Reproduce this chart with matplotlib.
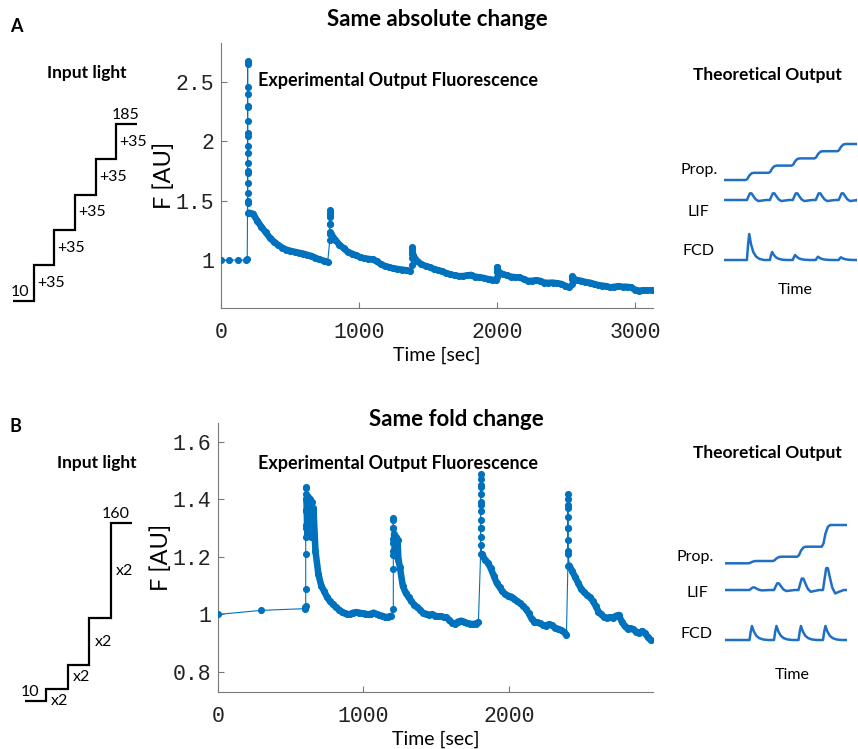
import numpy as np
import matplotlib
matplotlib.use("Agg")
import matplotlib.pyplot as plt
from matplotlib.ticker import FormatStrFormatter

plt.rcParams["font.family"] = ["Lato", "DejaVu Sans"]

W, H = 858, 749
BLUE = "#0072BD"
THEORY_BLUE = "#1f6fc5"
MONO = "Liberation Mono"

# ---------------- panel A: same absolute change ----------------
a_light = [10, 45, 80, 115, 150, 185]

a_base_t = [0, 60, 120, 180, 190]
a_base_f = [1.0, 1.0, 1.0, 1.0, 1.01]
a_jump_t = [193, 788, 1382, 2002, 2540]
a_jump_f = [
    [1.48, 1.565, 1.65, 1.73, 1.82, 1.90, 1.96, 2.07, 2.17, 2.29, 2.30, 2.455,
     2.65, 2.68, 2.66, 2.40, 2.05, 1.75, 1.50, 1.40],
    [1.17, 1.22, 1.30, 1.36, 1.40, 1.42, 1.38, 1.30, 1.24],
    [0.96, 1.02, 1.07, 1.10, 1.107, 1.09, 1.05],
    [0.86, 0.90, 0.93, 0.945, 0.94, 0.91],
    [0.80, 0.84, 0.865, 0.86, 0.845],
]
a_decay_t0 = [203, 798, 1392, 2012, 2550]
a_decay_dt = 30
a_decay_f = [
    [1.40, 1.39, 1.33, 1.28, 1.235, 1.19, 1.155, 1.128, 1.105, 1.088, 1.078,
     1.07, 1.062, 1.055, 1.045, 1.035, 1.02, 1.005, 0.995, 0.985],
    [1.22, 1.17, 1.13, 1.10, 1.07, 1.055, 1.04, 1.025, 1.015, 1.01, 1.005,
     0.99, 0.965, 0.95, 0.94, 0.93, 0.925, 0.92, 0.915, 0.91],
    [1.04, 0.99, 0.965, 0.95, 0.94, 0.925, 0.915, 0.905, 0.89, 0.88, 0.87,
     0.865, 0.865, 0.87, 0.875, 0.86, 0.855, 0.85, 0.84, 0.835, 0.83],
    [0.90, 0.88, 0.87, 0.86, 0.855, 0.855, 0.84, 0.825, 0.825, 0.83, 0.825,
     0.81, 0.808, 0.81, 0.805, 0.80, 0.785, 0.77],
    [0.845, 0.83, 0.825, 0.815, 0.81, 0.80, 0.79, 0.785, 0.78, 0.77, 0.775,
     0.78, 0.775, 0.775, 0.77, 0.75, 0.742, 0.745, 0.745, 0.745],
]

# ---------------- panel B: same fold change ----------------
b_light = [10, 20, 40, 80, 160]

b_base_t = [0, 297, 595, 600]
b_base_f = [1.0, 1.014, 1.02, 1.025]
b_jump_t = [603, 1205, 1805, 2405]
b_jump_f = [
    [1.03, 1.09, 1.21, 1.31, 1.365, 1.40, 1.44, 1.445, 1.42, 1.36, 1.30, 1.27],
    [1.02, 1.157, 1.205, 1.263, 1.30, 1.33, 1.335, 1.30, 1.25, 1.22],
    [1.21, 1.27, 1.30, 1.33, 1.36, 1.39, 1.42, 1.445, 1.47, 1.49, 1.45, 1.38,
     1.30, 1.24],
    [1.17, 1.21, 1.26, 1.30, 1.34, 1.37, 1.40, 1.42, 1.38, 1.30, 1.22],
]
b_blob_dt = 6
b_blob_f = [
    [1.40, 1.28, 1.41, 1.30, 1.40, 1.27, 1.39, 1.29, 1.37],
    [1.28, 1.22, 1.27, 1.20, 1.26, 1.19],
    [],
    [],
]
b_decay_t0 = [670, 1250, 1815, 2415]
b_decay_dt = 20
b_decay_f = [
    [1.22, 1.14, 1.10, 1.08, 1.06, 1.045, 1.035, 1.025, 1.017, 1.01, 1.004,
     1.0, 1.002, 1.006, 1.008, 1.006, 1.004, 1.003, 1.0, 1.002, 1.006, 1.0,
     0.997, 0.995, 0.99, 0.992, 0.995],
    [1.165, 1.10, 1.075, 1.06, 1.045, 1.033, 1.025, 1.015, 1.005, 1.002,
     0.998, 1.0, 0.996, 0.993, 0.994, 0.99, 0.99, 0.98, 0.97, 0.968, 0.975,
     0.978, 0.975, 0.97, 0.968, 0.966, 0.968, 0.972],
    [1.21, 1.19, 1.18, 1.16, 1.135, 1.11, 1.095, 1.08, 1.07, 1.065, 1.062,
     1.055, 1.046, 1.04, 1.03, 1.02, 1.005, 0.985, 0.975, 0.972, 0.969, 0.962,
     0.96, 0.966, 0.962, 0.954, 0.95, 0.946, 0.94, 0.93],
    [1.17, 1.15, 1.13, 1.11, 1.09, 1.078, 1.068, 1.06, 1.048, 1.03, 1.01, 1.0,
     0.99, 0.988, 0.99, 0.988, 0.995, 0.998, 0.975, 0.96, 0.95, 0.952, 0.948,
     0.94, 0.934, 0.942, 0.935, 0.92, 0.91],
]

# ---------------- schematic theoretical outputs ----------------
lif_shape_dt = [-0.1, 0.0, 0.06, 0.13, 0.2, 0.28, 0.38, 0.5, 0.65, 0.85]
lif_shape_v = [0, 0, 0.45, 0.95, 0.95, 0.55, 0.1, -0.15, -0.08, 0]
fcd_shape_dt = [-0.1, 0.0, 0.05, 0.1, 0.18, 0.28, 0.4, 0.55, 0.75]
fcd_shape_v = [0, 0, 0.6, 1.0, 0.6, 0.3, 0.13, 0.04, 0]
prop_shape_dt = [-0.05, 0.02, 0.1, 0.2, 0.3]
prop_shape_v = [0, 0.15, 0.6, 0.92, 1.0]

a_prop_levels = [0, 7.2, 14.4, 21.6, 28.8, 36]
a_lif_heights = [7, 7, 7, 7, 7]
a_fcd_heights = [26, 8, 5, 3.3, 2.7]
a_offsets = [0, -20, -80]      # Prop, LIF, FCD baselines
a_t_end = 5.8

b_prop_levels = [0, 2.3, 6.6, 16.6, 38.3]
b_lif_heights = [2.7, 7, 12, 23]
b_fcd_heights = [14, 14, 14, 14]
b_offsets = [0, -26.7, -76.7]
b_t_end = 4.98


def px_axes(fig, x0, y0, x1, y1):
    return fig.add_axes([x0 / W, 1 - y1 / H, (x1 - x0) / W, (y1 - y0) / H])


def ftext(fig, x, y, s, **kw):
    kw.setdefault("ha", "center")
    kw.setdefault("va", "center")
    fig.text(x / W, 1 - y / H, s, **kw)


def trace(ax, base_t, base_f, jump_t, jump_f, dec_t0, dec_dt, dec_f,
          blob_f=None, blob_dt=0):
    t_all, f_all = list(base_t), list(base_f)
    for k in range(len(jump_t)):
        t_all += [jump_t[k]] * len(jump_f[k])
        f_all += jump_f[k]
        seg_t, seg_f = [], []
        if blob_f is not None and blob_f[k]:
            seg_t += list(jump_t[k] + 5 + blob_dt * np.arange(len(blob_f[k])))
            seg_f += blob_f[k]
        seg_t += list(dec_t0[k] + dec_dt * np.arange(len(dec_f[k])))
        seg_f += dec_f[k]
        t_all += seg_t
        f_all += seg_f
        ax.plot(seg_t, seg_f, color=BLUE, lw=4.7, solid_capstyle="round",
                solid_joinstyle="round", zorder=2)
    ax.plot(t_all, f_all, color=BLUE, lw=0.8, marker="o", ms=4.1,
            mec=BLUE, mfc=BLUE, zorder=3)


def style_main(ax, xlim, ylim, xticks, yticks):
    ax.set_xlim(*xlim)
    ax.set_ylim(*ylim)
    ax.set_xticks(xticks)
    ax.set_yticks(yticks)
    ax.yaxis.set_major_formatter(FormatStrFormatter("%g"))
    for s in ["top", "right"]:
        ax.spines[s].set_visible(False)
    for s in ["left", "bottom"]:
        ax.spines[s].set_color("#7a7a7a")
        ax.spines[s].set_linewidth(0.8)
    ax.tick_params(direction="in", length=4, width=0.8, color="#7a7a7a",
                   labelsize=15.5, labelcolor="#222222")
    ax.tick_params(axis="x", pad=10)
    ax.tick_params(axis="y", pad=5)
    for lab in ax.get_xticklabels() + ax.get_yticklabels():
        lab.set_family(MONO)


def staircase(ax, levels, kind):
    edges = np.arange(len(levels) + 1)
    ax.stairs(levels, edges, baseline=None, color="black", lw=1.6,
              clip_on=False)
    ax.set_xlim(0, len(levels))
    ax.set_ylim(levels[0], levels[-1])
    ax.axis("off")
    for k in range(1, len(levels)):
        if kind == "add":
            s = f"+{levels[k] - levels[k - 1]}"
            y = (levels[k] + levels[k - 1]) / 2
            x = k + 0.15
        else:
            s = f"x{levels[k] // levels[k - 1]}"
            y = (levels[k] + levels[k - 1]) / 2 if k > 1 else levels[0]
            x = k + 0.25 if k > 1 else k + 0.2
        ax.text(x, y, s, ha="left", va="center", fontsize=11.5)


def bump_curve(times, heights, dts, vs, t_end):
    tt, vv = [0.0], [0.0]
    for tk, h in zip(times, heights):
        tt += [tk + d for d in dts]
        vv += [h * v for v in vs]
    tt.append(t_end)
    vv.append(0.0)
    return tt, vv


def prop_curve(levels, t_end):
    tt, vv = [0.0], [levels[0]]
    for k in range(1, len(levels)):
        tt += [k + d for d in prop_shape_dt]
        vv += [levels[k - 1] + f * (levels[k] - levels[k - 1])
               for f in prop_shape_v]
    tt.append(t_end)
    vv.append(levels[-1])
    return tt, vv


def theory(ax, prop_levels, lif_h, fcd_h, offsets, t_end, ylim):
    steps = list(range(1, len(prop_levels)))
    pt, pv = prop_curve(prop_levels, t_end)
    lt, lv = bump_curve(steps, lif_h, lif_shape_dt, lif_shape_v, t_end)
    ct, cv = bump_curve(steps, fcd_h, fcd_shape_dt, fcd_shape_v, t_end)
    for (t, v), off in zip([(pt, pv), (lt, lv), (ct, cv)], offsets):
        ax.plot(t, [x + off for x in v], color=THEORY_BLUE, lw=1.8,
                solid_joinstyle="round")
    ax.set_xlim(0, t_end)
    ax.set_ylim(*ylim)
    ax.axis("off")


fig = plt.figure(figsize=(W / 100, H / 100), dpi=100)

# ---- A ----
ax = px_axes(fig, 221, 43, 653, 308)
trace(ax, a_base_t, a_base_f, a_jump_t, a_jump_f, a_decay_t0, a_decay_dt,
      a_decay_f)
style_main(ax, (0, 3130), (0.596, 2.83), [0, 1000, 2000, 3000],
           [1, 1.5, 2, 2.5])
ax.set_xlabel("Time [sec]", fontsize=14, labelpad=3)
ax.set_ylabel("F [AU]", fontsize=17, labelpad=0)
ax.text(0.085, 0.857, "Experimental Output Fluorescence", transform=ax.transAxes,
        fontsize=13, fontweight="bold", ha="left", va="center")

ax = px_axes(fig, 13, 124, 137, 300.7)
staircase(ax, a_light, "add")
ax.text(0.35, a_light[0] + 2, str(a_light[0]), ha="center", va="bottom",
        fontsize=11.5)
ax.text(5.45, a_light[-1] + 2, str(a_light[-1]), ha="center", va="bottom",
        fontsize=11.5)

ax = px_axes(fig, 724, 140, 857, 265)
theory(ax, a_prop_levels, a_lif_heights, a_fcd_heights, a_offsets, a_t_end,
       (-85, 40))

ftext(fig, 16, 27, "A", fontsize=13, fontweight="bold")
ftext(fig, 437, 20, "Same absolute change", fontsize=16, fontweight="bold")
ftext(fig, 87, 73, "Input light", fontsize=12.5, fontweight="bold")
ftext(fig, 767, 75, "Theoretical Output", fontsize=12.5, fontweight="bold")
ftext(fig, 681, 170, "Prop.", fontsize=11.5, ha="left")
ftext(fig, 698, 212, "LIF", fontsize=11.5)
ftext(fig, 698, 251, "FCD", fontsize=11.5)
ftext(fig, 795, 290, "Time", fontsize=11.5)

# ---- B ----
ax = px_axes(fig, 218, 423, 653, 692)
trace(ax, b_base_t, b_base_f, b_jump_t, b_jump_f, b_decay_t0, b_decay_dt,
      b_decay_f, b_blob_f, b_blob_dt)
style_main(ax, (0, 2990), (0.73, 1.666), [0, 1000, 2000],
           [0.8, 1, 1.2, 1.4, 1.6])
ax.set_xlabel("Time [sec]", fontsize=14, labelpad=3)
ax.set_ylabel("F [AU]", fontsize=17, labelpad=0)
ax.text(0.092, 0.85, "Experimental Output Fluorescence", transform=ax.transAxes,
        fontsize=13, fontweight="bold", ha="left", va="center")

ax = px_axes(fig, 25, 523.3, 132, 701)
staircase(ax, b_light, "mul")
ax.text(0.23, b_light[0] + 2, str(b_light[0]), ha="center", va="bottom",
        fontsize=11.5)
ax.text(4.25, b_light[-1] + 2, str(b_light[-1]), ha="center", va="bottom",
        fontsize=11.5)

ax = px_axes(fig, 725, 518.3, 847, 648.3)
theory(ax, b_prop_levels, b_lif_heights, b_fcd_heights, b_offsets, b_t_end,
       (-85, 45))

ftext(fig, 15, 427, "B", fontsize=13, fontweight="bold")
ftext(fig, 456, 420, "Same fold change", fontsize=16, fontweight="bold")
ftext(fig, 97, 463, "Input light", fontsize=12.5, fontweight="bold")
ftext(fig, 767, 453, "Theoretical Output", fontsize=12.5, fontweight="bold")
ftext(fig, 677, 557, "Prop.", fontsize=11.5, ha="left")
ftext(fig, 697, 593, "LIF", fontsize=11.5)
ftext(fig, 697, 634, "FCD", fontsize=11.5)
ftext(fig, 792, 675, "Time", fontsize=11.5)

fig.savefig("out.png", dpi=100)
